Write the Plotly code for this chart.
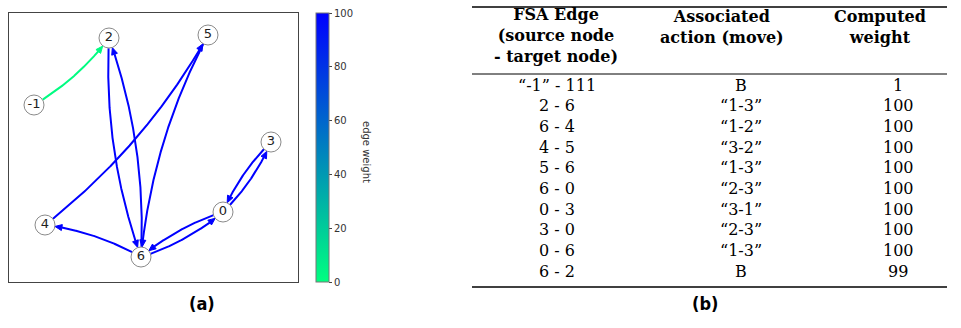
import numpy as np
import plotly.graph_objects as go

# ---------------- data ----------------
node_names = ["-1", "2", "5", "3", "0", "4", "6"]
node_x = [25, 100, 199, 262, 214, 36, 132]
node_y = [177, 244, 247, 140, 70, 57, 25]

edge_src = ["-1", "2", "6", "4", "5", "6", "0", "3", "0", "6"]
edge_dst = ["2", "6", "4", "5", "6", "0", "3", "0", "6", "2"]
edge_w = [1, 100, 100, 100, 100, 100, 100, 100, 100, 99]

cbar_ticks = [0, 20, 40, 60, 80, 100]

tbl_header_c1 = ["FSA Edge", "(source node", "- target node)"]
tbl_header_c2 = ["Associated", "action (move)"]
tbl_header_c3 = ["Computed", "weight"]
tbl_edge = ["“-1”\u00a0-\u00a0111", "2 - 6", "6 - 4", "4 - 5", "5 - 6", "6 - 0", "0 - 3", "3 - 0", "0 - 6", "6 - 2"]
tbl_action = ["B", "“1-3”", "“1-2”", "“3-2”", "“1-3”", "“2-3”", "“3-1”", "“2-3”", "“1-3”", "B"]
tbl_weight = ["1", "100", "100", "100", "100", "100", "100", "100", "100", "99"]

# ---------------- helpers ----------------
W, H = 961, 328


def winter_r(w):
    t = w / 100.0
    g = 255 * (1 - t)
    b = 255 * (0.5 + 0.5 * t)
    return f"rgb(0,{g:.0f},{b:.0f})"


pos = {n: np.array([x, y], float) for n, x, y in zip(node_names, node_x, node_y)}
RAD = 0.1
R_NODE = 10.0
HEAD_L = 7.0
HEAD_W = 3.0

fig = go.Figure()

for s, d, w in zip(edge_src, edge_dst, edge_w):
    p0, p1 = pos[s], pos[d]
    dv = p1 - p0
    c = (p0 + p1) / 2 + RAD * np.array([dv[1], -dv[0]])
    t = np.linspace(0, 1, 400)[:, None]
    pts = (1 - t) ** 2 * p0 + 2 * (1 - t) * t * c + t ** 2 * p1
    d0 = np.linalg.norm(pts - p0, axis=1)
    d1 = np.linalg.norm(pts - p1, axis=1)
    idx_tip = np.where(d1 >= R_NODE)[0][-1]
    tip = pts[idx_tip]
    tt = t[idx_tip, 0]
    tang = 2 * (1 - tt) * (c - p0) + 2 * tt * (p1 - c)
    u = tang / np.linalg.norm(tang)
    base = tip - HEAD_L * u
    keep = (d0 >= R_NODE) & (d1 >= R_NODE + HEAD_L)
    line_pts = np.vstack([pts[keep], base])
    col = winter_r(w)
    fig.add_trace(go.Scatter(x=line_pts[:, 0], y=line_pts[:, 1], mode="lines",
                             line=dict(color=col, width=2), hoverinfo="skip",
                             showlegend=False, xaxis="x", yaxis="y"))
    nrm = np.array([-u[1], u[0]])
    tri = np.array([tip, base + HEAD_W * nrm, base - HEAD_W * nrm, tip])
    fig.add_trace(go.Scatter(x=tri[:, 0], y=tri[:, 1], mode="lines", fill="toself",
                             fillcolor=col, line=dict(color=col, width=1),
                             hoverinfo="skip", showlegend=False, xaxis="x", yaxis="y"))

fig.add_trace(go.Scatter(
    x=node_x, y=node_y, mode="markers+text", text=node_names,
    textposition="middle center",
    textfont=dict(family="DejaVu Sans", size=13, color="#222"),
    marker=dict(size=20, color="white", line=dict(color="#8a8a8a", width=1)),
    hoverinfo="skip", showlegend=False, xaxis="x", yaxis="y"))

# colorbar carrier
fig.add_trace(go.Scatter(
    x=[None, None], y=[None, None], mode="markers",
    marker=dict(color=[0, 100], cmin=0, cmax=100,
                colorscale=[[0, "rgb(0,255,128)"], [1, "rgb(0,0,255)"]],
                showscale=True,
                colorbar=dict(thickness=13, thicknessmode="pixels",
                              len=269 / H, lenmode="fraction",
                              x=316 / W, xanchor="left", y=1 - 13 / H, yanchor="top",
                              xpad=0, ypad=0, outlinewidth=1, outlinecolor="#777",
                              ticks="outside", ticklen=3, tickwidth=1, tickcolor="#444",
                              tickvals=cbar_ticks,
                              tickfont=dict(family="DejaVu Sans", size=10, color="#333"))),
    hoverinfo="skip", showlegend=False, xaxis="x", yaxis="y"))

ann = []
ann.append(dict(x=367 / W, y=1 - 152 / H, xref="paper", yref="paper", text="edge weight",
                textangle=90, showarrow=False,
                font=dict(family="DejaVu Sans", size=10, color="#333")))

# ---------------- table ----------------
hdr_font = dict(family="DejaVu Serif", size=16, color="black")
body_font = dict(family="DejaVu Serif", size=16, color="black")
for cx, cy, lines in [(556, 36, tbl_header_c1), (722, 27, tbl_header_c2), (880, 27, tbl_header_c3)]:
    ann.append(dict(x=cx / W, y=1 - cy / H, xref="paper", yref="paper",
                    text="<br>".join(f"<b>{t}</b>" for t in lines), showarrow=False,
                    font=hdr_font, align="center", xanchor="center", yanchor="middle",
                    borderpad=0))
row0, dy = 85, 20.67
for i in range(len(tbl_edge)):
    yy = 1 - (row0 + dy * i) / H
    for cx, col in [(557, tbl_edge), (741, tbl_action), (898, tbl_weight)]:
        ann.append(dict(x=cx / W, y=yy, xref="paper", yref="paper", text=col[i],
                        showarrow=False, font=body_font, xanchor="center", yanchor="middle",
                        borderpad=0))

shapes = []
for yy, lw in [(7, 1.5), (74, 1.0), (287, 1.5)]:
    shapes.append(dict(type="line", xref="paper", yref="paper",
                       x0=472 / W, x1=947 / W, y0=1 - yy / H, y1=1 - yy / H,
                       line=dict(color="black", width=lw)))

cap_font = dict(family="DejaVu Sans Condensed, DejaVu Sans", size=18, color="black")
ann.append(dict(x=187 / W, y=1 - 316 / H, xref="paper", yref="paper", text="<b>(a)</b>",
                showarrow=False, font=cap_font))
ann.append(dict(x=720 / W, y=1 - 316 / H, xref="paper", yref="paper", text="<b>(b)</b>",
                showarrow=False, font=cap_font))

fig.update_layout(
    width=W, height=H, margin=dict(l=0, r=0, t=0, b=0),
    paper_bgcolor="white", plot_bgcolor="white",
    xaxis=dict(domain=[9 / W, 298 / W], range=[0, 289], showline=True, mirror=True,
               linecolor="#444", linewidth=1, showgrid=False, zeroline=False,
               showticklabels=False, ticks="", fixedrange=True),
    yaxis=dict(domain=[46 / H, 315 / H], range=[0, 269], showline=True, mirror=True,
               linecolor="#444", linewidth=1, showgrid=False, zeroline=False,
               showticklabels=False, ticks="", fixedrange=True),
    annotations=ann, shapes=shapes, showlegend=False,
)

fig.write_html("out.html", config={"displayModeBar": False},
               post_script="document.body.style.margin='0px';")
